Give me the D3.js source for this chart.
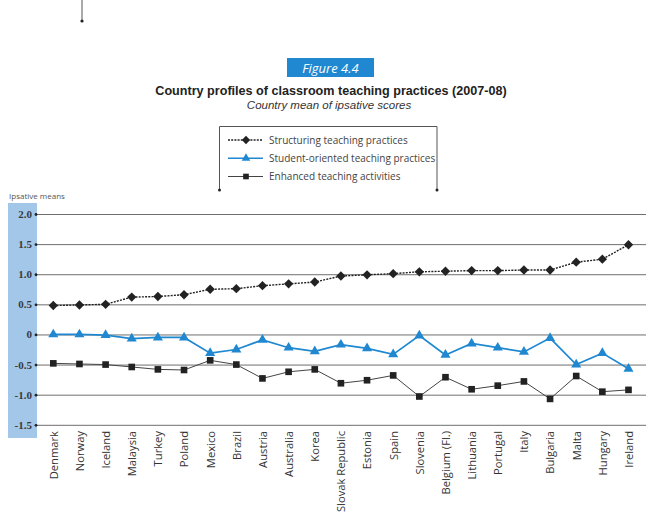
<!DOCTYPE html>
<html lang="en">
<head>
<meta charset="utf-8">
<script src="https://cdn.jsdelivr.net/npm/d3@7"></script>
<style>
  body { margin: 0; background: #fff; }
  text { font-family: "Open Sans", "DejaVu Sans", sans-serif; }
</style>
</head>
<body>
<div id="chart"></div>
<script>
  let countries = ['Denmark', 'Norway', 'Iceland', 'Malaysia', 'Turkey', 'Poland', 'Mexico', 'Brazil',
    'Austria', 'Australia', 'Korea', 'Slovak Republic', 'Estonia', 'Spain', 'Slovenia', 'Belgium (Fl.)',
    'Lithuania', 'Portugal', 'Italy', 'Bulgaria', 'Malta', 'Hungary', 'Ireland']
  let structuring = [0.48, 0.49, 0.50, 0.62, 0.63, 0.66, 0.75, 0.76, 0.81, 0.84, 0.87, 0.97,
    0.99, 1.01, 1.04, 1.05, 1.06, 1.06, 1.07, 1.07, 1.20, 1.25, 1.49]
  let studentOriented = [0.00, 0.00, -0.01, -0.07, -0.05, -0.05, -0.31, -0.25, -0.09, -0.22, -0.28, -0.17,
    -0.23, -0.33, -0.02, -0.34, -0.15, -0.22, -0.29, -0.06, -0.50, -0.31, -0.57]
  let enhanced = [-0.48, -0.49, -0.50, -0.54, -0.58, -0.59, -0.43, -0.50, -0.73, -0.62, -0.58, -0.81,
    -0.76, -0.68, -1.03, -0.71, -0.91, -0.85, -0.78, -1.07, -0.69, -0.95, -0.92]
  let yTicks = [2.0, 1.5, 1.0, 0.5, 0, -0.5, -1.0, -1.5]
  let yTickLabels = ['2.0', '1.5', '1.0', '0.5', '0', '-0.5', '-1.0', '-1.5']
  let seriesNames = ['Structuring teaching practices', 'Student-oriented teaching practices', 'Enhanced teaching activities']

  let w = 648
  let h = 531
  let blue = '#1f88d0'

  let xScale = d3.scalePoint()
    .domain(countries)
    .range([53.3, 628.5])
  let yScale = d3.scaleLinear()
    .domain([-1.5, 2.0])
    .range([424.8, 214])

  let svg = d3.select('#chart')
    .append('svg')
    .attr('width', w)
    .attr('height', h)

  // little rule at top left
  svg.append('line')
    .attr('x1', 82).attr('x2', 82).attr('y1', 0).attr('y2', 21)
    .attr('stroke', '#555').attr('stroke-width', 1)
  svg.append('circle').attr('cx', 82).attr('cy', 21).attr('r', 1.6).attr('fill', '#222')

  // figure tag + titles
  svg.append('rect')
    .attr('x', 287).attr('y', 58).attr('width', 87).attr('height', 19)
    .attr('fill', blue)
  svg.append('text')
    .attr('x', 330.5).attr('y', 72.5)
    .attr('text-anchor', 'middle')
    .attr('fill', '#fff')
    .attr('font-size', 13)
    .attr('font-style', 'italic')
    .text('Figure 4.4')
  svg.append('text')
    .attr('x', 331).attr('y', 95)
    .attr('text-anchor', 'middle')
    .attr('fill', '#222')
    .attr('font-size', 12.6)
    .attr('font-weight', 'bold')
    .style('font-family', '"Liberation Sans Narrow", "Liberation Sans", sans-serif')
    .text('Country profiles of classroom teaching practices (2007-08)')
  svg.append('text')
    .attr('x', 329).attr('y', 109)
    .attr('text-anchor', 'middle')
    .attr('fill', '#333')
    .attr('font-size', 11.5)
    .attr('font-style', 'italic')
    .style('font-family', '"Liberation Sans Narrow", "Liberation Sans", sans-serif')
    .text('Country mean of ipsative scores')

  // legend frame
  svg.append('path')
    .attr('d', 'M219.5,190 V126.5 H437 V190')
    .attr('fill', 'none').attr('stroke', '#555').attr('stroke-width', 1)
  svg.append('circle').attr('cx', 219.5).attr('cy', 190).attr('r', 1.5).attr('fill', '#222')
  svg.append('circle').attr('cx', 437).attr('cy', 190).attr('r', 1.5).attr('fill', '#222')

  let legendRows = [
    {name: seriesNames[0], dash: '2,1.2', stroke: '#222', width: 1.4, shape: d3.symbolDiamond2, fill: '#222', size: 44},
    {name: seriesNames[1], dash: null, stroke: blue, width: 1.7, shape: d3.symbolTriangle, fill: blue, size: 32},
    {name: seriesNames[2], dash: null, stroke: '#444', width: 1, shape: d3.symbolSquare, fill: '#222', size: 32}
  ]
  let legendY = d3.scalePoint().domain(d3.range(3)).range([140, 176.5])
  let lg = svg.append('g').selectAll('g')
    .data(legendRows)
    .join('g')
    .attr('transform', (d, i) => 'translate(0,' + legendY(i) + ')')
  lg.append('line')
    .attr('x1', 228).attr('x2', 263)
    .attr('stroke', d => d.stroke)
    .attr('stroke-width', d => d.width)
    .attr('stroke-dasharray', d => d.dash)
  lg.append('path')
    .attr('transform', 'translate(246,0)')
    .attr('d', d => d3.symbol().type(d.shape).size(d.size)())
    .attr('fill', d => d.fill)
  lg.append('text')
    .attr('x', 269).attr('y', 3.5)
    .attr('font-size', 10)
    .attr('fill', '#444')
    .text(d => d.name)

  // axis label + blue band
  svg.append('text')
    .attr('x', 9).attr('y', 199)
    .attr('font-size', 8)
    .attr('fill', '#555')
    .text('Ipsative means')
  svg.append('rect')
    .attr('x', 8).attr('y', 203).attr('width', 29).attr('height', 235)
    .attr('fill', '#a3c7e9')

  // grid lines
  let yAxis = d3.axisLeft(yScale)
    .tickValues(yTicks)
    .tickFormat((d, i) => yTickLabels[i])
    .tickSize(-(646 - 36))
    .tickPadding(5)
  let gy = svg.append('g')
    .attr('transform', 'translate(36,0)')
    .call(yAxis)
  gy.select('.domain').remove()
  gy.selectAll('.tick line')
    .attr('stroke', '#6f6f6f')
    .attr('stroke-width', 1)
  gy.selectAll('.tick')
    .append('circle').attr('r', 1.4).attr('fill', '#222')
  gy.selectAll('.tick text')
    .attr('x', -4)
    .attr('font-size', 11)
    .attr('font-weight', 'bold')
    .attr('fill', '#3a3a3a')
    .style('font-family', '"Liberation Serif", serif')

  // x labels
  let xAxis = d3.axisBottom(xScale).tickSize(0).tickPadding(0)
  let gx = svg.append('g')
    .attr('transform', 'translate(0,431)')
    .call(xAxis)
  gx.select('.domain').remove()
  gx.selectAll('.tick text')
    .attr('transform', 'rotate(-90)')
    .attr('text-anchor', 'end')
    .attr('x', 0)
    .attr('y', 0)
    .attr('dy', '0.35em')
    .attr('font-size', 11.2)
    .attr('fill', '#333')

  function drawSeries(values, row) {
    let line = d3.line()
      .x((d, i) => xScale(countries[i]))
      .y(d => yScale(d))
    svg.append('path')
      .datum(values)
      .attr('d', line)
      .attr('fill', 'none')
      .attr('stroke', row.stroke)
      .attr('stroke-width', row.width)
      .attr('stroke-dasharray', row.dash)
    svg.append('g').selectAll('path')
      .data(values)
      .join('path')
      .attr('transform', (d, i) => 'translate(' + xScale(countries[i]) + ',' + yScale(d) + ')')
      .attr('d', d3.symbol().type(row.shape).size(row.size + 12)())
      .attr('fill', row.fill)
  }
  drawSeries(enhanced, legendRows[2])
  drawSeries(studentOriented, legendRows[1])
  drawSeries(structuring, legendRows[0])
</script>
</body>
</html>
